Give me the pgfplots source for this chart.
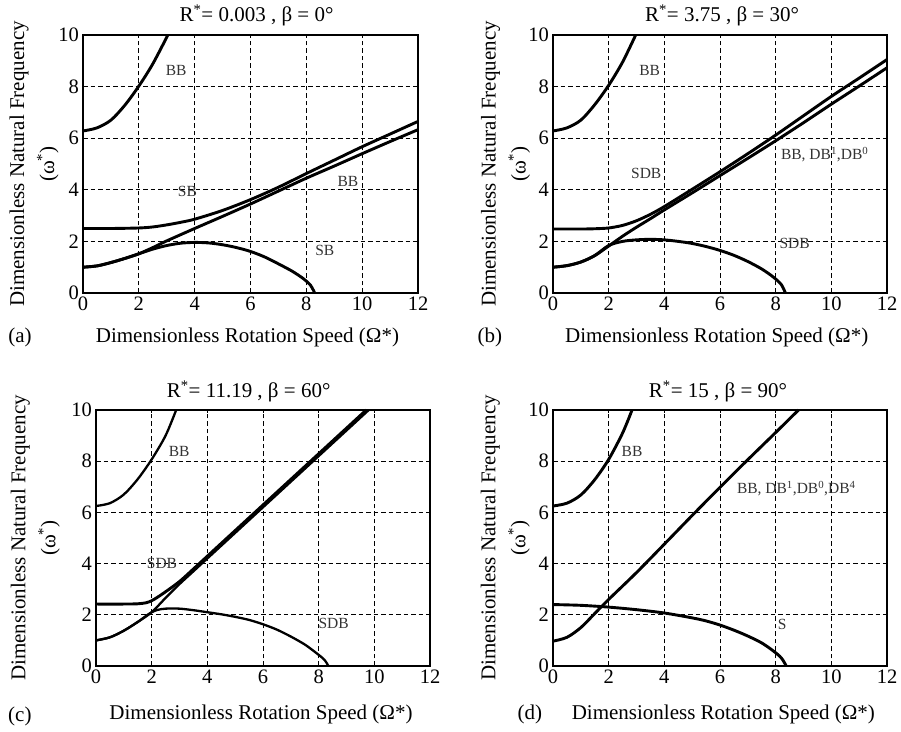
\documentclass[border=0pt]{standalone}
\usepackage{fontspec}
\setmainfont{Liberation Serif}
\usepackage{pgfplots}
\pgfplotsset{compat=1.18}
\pgfplotsset{
  panel/.style={
    scale only axis,
    anchor=south west,
    xmin=0, xmax=12, ymin=0, ymax=10,
    xtick={0,2,...,12}, ytick={0,2,...,10},
    grid=major,
    major grid style={black, line width=0.7bp, dash pattern=on 4.5bp off 3bp},
    axis line style={line width=1.4bp},
    tick align=inside,
    major tick length=3bp,
    tick style={black, line width=0.7bp},
    clip=false,
    /pgf/number format/assume math mode=true,
    ticklabel style={font=\fontsize{20.5bp}{24bp}\selectfont},
    xticklabel style={inner sep=4bp},
    yticklabel style={inner sep=4bp},
    every axis title/.style={anchor=base, font=\fontsize{21bp}{25bp}\selectfont},
    every axis x label/.style={anchor=center, font=\fontsize{21bp}{25bp}\selectfont},
    every axis y label/.style={anchor=center, rotate=90, align=center, font=\fontsize{21bp}{25bp}\selectfont},
    xlabel={Dimensionless Rotation Speed (Ω*)},
    ylabel={Dimensionless Natural Frequency\\[5bp](ω\textsuperscript{*})},
  },
  curve/.style={black, line width=2.9bp, smooth, line join=round},
  thincurve/.style={black, line width=2.3bp, smooth, line join=round},
  zero/.style={black, line width=2.9bp},
}
\tikzset{annot/.style={text=black!80, font=\fontsize{15.5bp}{18bp}\selectfont, inner sep=0pt},
         plab/.style={font=\fontsize{21bp}{25bp}\selectfont, anchor=center}}
\begin{document}
\begin{tikzpicture}
\path[use as bounding box] (0,0) rectangle (901bp,732bp);

% ---------------- (a)
\begin{axis}[panel, at={(83bp,439bp)}, width=335bp, height=258bp,
  title={R\textsuperscript{*}= 0.003 , β = 0°},
  title style={at={(axis description cs:0.518,1.052)}},
  xlabel style={at={(axis description cs:0.491,-0.174)}},
  ylabel style={at={(axis description cs:-0.146,0.5)}}]
\addplot[curve] coordinates {(0,6.28)(0.5,6.4)(1,6.7)(1.5,7.28)(2,8.02)(2.5,8.88)(3.04,10)};
\addplot[curve] coordinates {(0,2.5)(1,2.5)(2,2.52)(2.5,2.56)(3,2.64)(3.5,2.74)(4,2.86)(5,3.2)(6,3.62)(7,4.1)(8,4.63)(9,5.15)(10,5.67)(11,6.16)(12,6.65)};
\addplot[curve] coordinates {(0,1.0)(0.5,1.05)(1,1.18)(1.5,1.34)(2,1.52)(2.5,1.76)(3,2.02)(4,2.5)(5,2.97)(6,3.45)(7,3.95)(8,4.45)(9,4.92)(10,5.4)(11,5.87)(12,6.33)};
\addplot[curve] coordinates {(0,1.0)(0.5,1.05)(1,1.18)(1.5,1.34)(2,1.52)(2.5,1.7)(3,1.84)(3.5,1.93)(4,1.96)(4.5,1.94)(5,1.87)(5.5,1.76)(6,1.61)(6.5,1.4)(7,1.13)(7.5,0.84)(7.9,0.55)(8.15,0.3)(8.3,0)};
\addplot[zero] coordinates {(8.3,0)(12,0)};
\node[annot] at (axis cs:3.34,8.62) {BB};
\node[annot] at (axis cs:3.74,3.93) {SB};
\node[annot] at (axis cs:9.49,4.32) {BB};
\node[annot] at (axis cs:8.66,1.63) {SB};
\node[plab] at (axis description cs:-0.188,-0.174) {(a)};
\end{axis}

% ---------------- (b)
\begin{axis}[panel, at={(553bp,439bp)}, width=334bp, height=258bp,
  title={R\textsuperscript{*}= 3.75 , β = 30°},
  title style={at={(axis description cs:0.506,1.052)}},
  xlabel style={at={(axis description cs:0.49,-0.174)}},
  ylabel style={at={(axis description cs:-0.142,0.5)}}]
\addplot[curve] coordinates {(0,6.28)(0.5,6.4)(1,6.7)(1.5,7.3)(2,8.05)(2.5,8.95)(2.97,10)};
\addplot[curve] coordinates {(0,2.48)(1,2.48)(1.5,2.49)(2,2.52)(2.5,2.62)(3,2.8)(3.5,3.05)(4,3.35)(5,4.02)(6,4.7)(7,5.4)(8,6.12)(9,6.87)(10,7.62)(11,8.33)(12,9.05)};
\addplot[curve] coordinates {(0,1.0)(0.5,1.06)(1,1.2)(1.5,1.45)(2,1.82)(2.5,2.2)(3,2.55)(3.5,2.88)(4,3.22)(5,3.88)(6,4.55)(7,5.22)(8,5.9)(9,6.6)(10,7.32)(11,8.02)(12,8.73)};
\addplot[curve] coordinates {(0,1.0)(0.5,1.06)(1,1.2)(1.5,1.45)(2,1.84)(2.5,2.0)(3,2.06)(3.5,2.08)(4,2.06)(4.5,2.0)(5,1.92)(5.5,1.8)(6,1.65)(6.5,1.46)(7,1.22)(7.5,0.93)(7.9,0.63)(8.2,0.33)(8.35,0)};
\addplot[zero] coordinates {(8.35,0)(12,0)};
\node[annot] at (axis cs:3.47,8.62) {BB};
\node[annot] at (axis cs:3.35,4.62) {SDB};
\node[annot] at (axis cs:9.76,5.36) {BB, DB\textsuperscript{1},DB\textsuperscript{0}};
\node[annot] at (axis cs:8.68,1.92) {SDB};
\node[plab] at (axis description cs:-0.189,-0.174) {(b)};
\end{axis}

% ---------------- (c)
\begin{axis}[panel, at={(96bp,66bp)}, width=334bp, height=256bp,
  title={R\textsuperscript{*}= 11.19 , β = 60°},
  title style={at={(axis description cs:0.457,1.047)}},
  xlabel style={at={(axis description cs:0.494,-0.191)}},
  ylabel style={at={(axis description cs:-0.182,0.5)}}]
\addplot[thincurve] coordinates {(0,6.25)(0.5,6.36)(1,6.7)(1.5,7.3)(2,8.07)(2.5,9.0)(2.88,10)};
\addplot[curve] coordinates {(0,2.42)(1,2.42)(1.5,2.43)(1.8,2.47)(2,2.55)(2.2,2.68)(2.5,2.9)(3,3.3)(3.5,3.79)(4,4.29)(5,5.29)(6,6.29)(7,7.29)(8,8.29)(9,9.29)(9.71,10)};
\addplot[thincurve] coordinates {(0,1.0)(0.5,1.12)(1,1.38)(1.5,1.72)(2,2.1)(2.5,2.66)(3,3.2)(3.5,3.7)(4,4.2)(5,5.2)(6,6.2)(7,7.2)(8,8.2)(9,9.2)(9.8,10)};
\addplot[thincurve] coordinates {(0,1.0)(0.5,1.12)(1,1.38)(1.5,1.72)(1.8,1.96)(2,2.1)(2.2,2.19)(2.5,2.24)(3,2.24)(3.5,2.18)(4,2.1)(4.5,2.02)(5,1.92)(5.5,1.8)(6,1.63)(6.5,1.42)(7,1.15)(7.5,0.84)(7.9,0.52)(8.2,0.25)(8.35,0)};
\addplot[zero] coordinates {(8.35,0)(12,0)};
\node[annot] at (axis cs:2.99,8.4) {BB};
\node[annot] at (axis cs:2.37,4.01) {SDB};
\node[annot] at (axis cs:8.54,1.67) {SDB};
\node[plab] at (axis description cs:-0.228,-0.197) {(c)};
\end{axis}

% ---------------- (d)
\begin{axis}[panel, at={(553bp,66bp)}, width=334bp, height=256bp,
  title={R\textsuperscript{*}= 15 , β = 90°},
  title style={at={(axis description cs:0.494,1.047)}},
  xlabel style={at={(axis description cs:0.51,-0.191)}},
  ylabel style={at={(axis description cs:-0.143,0.5)}}]
\addplot[curve] coordinates {(0,6.25)(0.5,6.36)(1,6.68)(1.5,7.28)(2,8.07)(2.5,9.1)(2.84,10)};
\addplot[curve] coordinates {(0,0.97)(0.5,1.12)(1,1.5)(1.5,2.05)(2,2.6)(3,3.65)(4,4.76)(5,5.88)(6,6.98)(7,8.06)(8,9.12)(8.82,10)};
\addplot[curve] coordinates {(0,2.4)(1,2.37)(2,2.3)(3,2.2)(4,2.07)(5,1.88)(5.5,1.76)(6,1.6)(6.5,1.4)(7,1.17)(7.5,0.9)(7.9,0.6)(8.2,0.32)(8.38,0)};
\addplot[zero] coordinates {(8.38,0)(12,0)};
\node[annot] at (axis cs:2.84,8.4) {BB};
\node[annot] at (axis cs:8.74,6.94) {BB, DB\textsuperscript{1},DB\textsuperscript{0},DB\textsuperscript{4}};
\node[annot] at (axis cs:8.23,1.64) {S};
\node[plab] at (axis description cs:-0.069,-0.191) {(d)};
\end{axis}
\end{tikzpicture}
\end{document}
